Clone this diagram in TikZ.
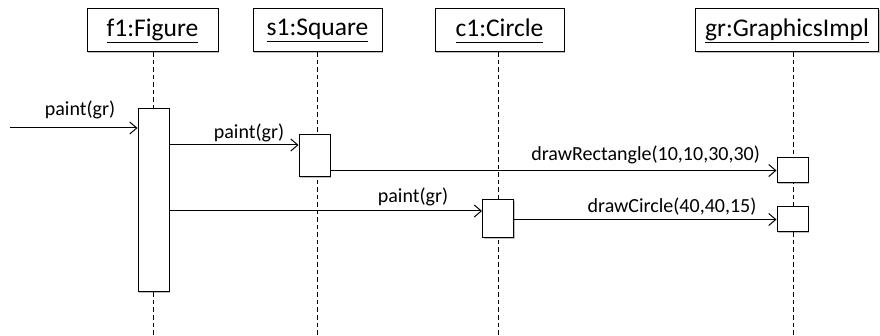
\documentclass[tikz,border=0pt]{standalone}
\usepackage{fontspec}
\setmainfont{Carlito}
\usetikzlibrary{arrows.meta,shadows}
\newcommand{\objname}[1]{\underline{#1\vphantom{g}}}
\begin{document}
\begin{tikzpicture}[x=1pt,y=-1pt,
  shade box/.style={drop shadow={shadow xshift=1.2pt,shadow yshift=-1.2pt,opacity=0.25,fill=black}},
  head/.style={draw,line width=1pt,fill=white,inner sep=0pt,minimum height=43pt,
    font=\fontsize{25.5}{28}\selectfont,shade box},
  act/.style={draw,line width=1pt,fill=white,inner sep=0pt,minimum width=31pt,shade box},
  life/.style={dash pattern=on 4.5pt off 3pt,line width=0.9pt},
  msg/.style={-{Straight Barb[length=7pt,width=12pt]},line width=1pt},
  lbl/.style={font=\fontsize{20}{24}\selectfont,inner sep=0pt}]

\useasboundingbox[fill=white] (0,0) rectangle (880,336);

% object headers
\node[head,minimum width=131pt] (f1) at (152.5,30.5) {\objname{f1:Figure}};
\node[head,minimum width=129pt] (s1) at (317.5,30.5) {\objname{s1:Square}};
\node[head,minimum width=129pt] (c1) at (499.5,30.5) {\objname{c1:Circle}};
\node[head,minimum width=183pt] (gr) at (787,30.5) {\objname{gr:GraphicsImpl}};

% lifeline ends
\coordinate (f1end) at (153,336);
\coordinate (s1end) at (317,336);
\coordinate (c1end) at (498,336);
\coordinate (grend) at (793,336);

\draw[life] (f1end |- f1.south) -- (f1end);
\draw[life] (s1end |- s1.south) -- (s1end);
\draw[life] (c1end |- c1.south) -- (c1end);
\draw[life] (grend |- gr.south) -- (grend);

% activation bars
\node[act,minimum height=183pt] (f1a) at (153.5,200.5) {};
\node[act,minimum height=42pt] (s1a) at (314.5,156) {};
\node[act,minimum height=38pt] (c1a) at (498,219) {};
\node[act,minimum height=25pt] (gr1a) at (792.5,170.5) {};
\node[act,minimum height=25pt] (gr2a) at (792.5,219.5) {};

% messages
\coordinate (src) at (10,128);
\draw[msg] (src) -- (f1a.west |- src);
\node[lbl] (l0) at (80,110) {paint(gr)};

\draw[msg] (f1a.east |- 0,145) -- (s1a.west |- 0,145);
\node[lbl] (l1) at (249,133) {paint(gr)};

\draw[msg] (s1a.east |- gr1a.west) -- (gr1a.west);
\node[lbl,anchor=east] (l2) at (760,155) {drawRectangle(10,10,30,30)};

\draw[msg] (f1a.east |- 0,211) -- (c1a.west |- 0,211);
\node[lbl] (l3) at (413,197) {paint(gr)};

\draw[msg] (c1a.east |- gr2a.west) -- (gr2a.west);
\node[lbl] (l4) at (672,207) {drawCircle(40,40,15)};
\end{tikzpicture}
\end{document}
